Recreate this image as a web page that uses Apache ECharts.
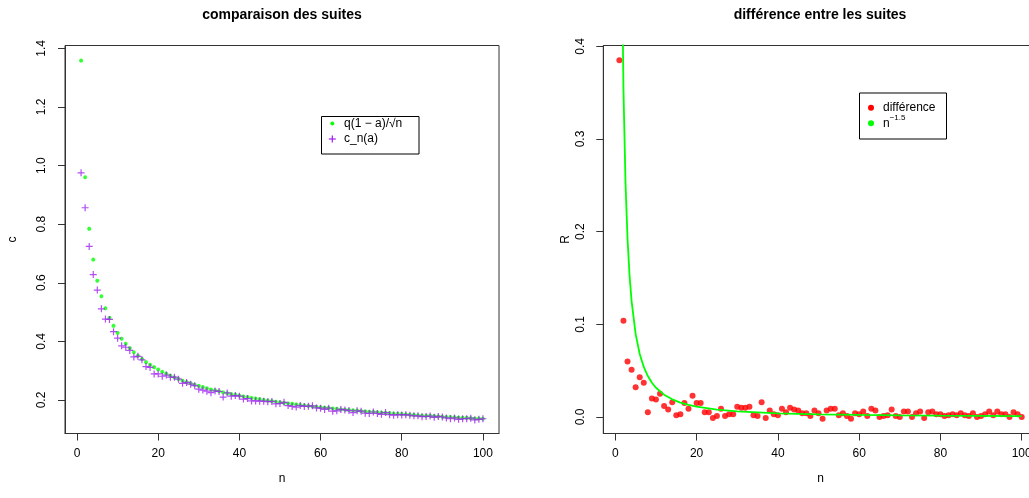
<!DOCTYPE html>
<html>
<head>
<meta charset="utf-8">
<script src="https://cdn.jsdelivr.net/npm/echarts@6/dist/echarts.min.js"></script>
<style>
html,body{margin:0;padding:0;background:#fff}
#main{width:1029px;height:498px}
</style>
</head>
<body>
<div id="main"></div>
<script>
// indices n = 1..100
const nVals=[1,2,3,4,5,6,7,8,9,10,11,12,13,14,15,16,17,18,19,20,
21,22,23,24,25,26,27,28,29,30,31,32,33,34,35,36,37,38,39,40,
41,42,43,44,45,46,47,48,49,50,51,52,53,54,55,56,57,58,59,60,
61,62,63,64,65,66,67,68,69,70,71,72,73,74,75,76,77,78,79,80,
81,82,83,84,85,86,87,88,89,90,91,92,93,94,95,96,97,98,99,100]

// green stars : q(1-a)/sqrt(n)
const qBound=[1.358,0.960,0.784,0.679,0.607,0.554,0.513,0.480,0.453,0.429,
0.409,0.392,0.377,0.363,0.351,0.340,0.329,0.320,0.312,0.304,
0.296,0.290,0.283,0.277,0.272,0.266,0.261,0.257,0.252,0.248,
0.244,0.240,0.236,0.233,0.230,0.226,0.223,0.220,0.218,0.215,
0.212,0.210,0.207,0.205,0.203,0.200,0.198,0.196,0.194,0.192,
0.190,0.188,0.187,0.185,0.183,0.182,0.180,0.178,0.177,0.175,
0.174,0.173,0.171,0.170,0.168,0.167,0.166,0.165,0.164,0.162,
0.161,0.160,0.159,0.158,0.157,0.156,0.155,0.154,0.153,0.152,
0.151,0.150,0.149,0.148,0.147,0.146,0.146,0.145,0.144,0.143,
0.142,0.142,0.141,0.140,0.139,0.139,0.138,0.137,0.137,0.136]

// purple crosses : c_n(a)
const cnVals=[0.975,0.856,0.724,0.628,0.575,0.511,0.476,0.475,0.433,0.411,
0.385,0.380,0.369,0.347,0.349,0.337,0.314,0.311,0.289,0.289,
0.281,0.285,0.278,0.278,0.271,0.257,0.260,0.254,0.249,0.237,
0.234,0.230,0.225,0.231,0.229,0.210,0.224,0.213,0.215,0.213,
0.203,0.205,0.197,0.197,0.196,0.196,0.194,0.195,0.187,0.188,
0.192,0.181,0.178,0.176,0.181,0.178,0.179,0.180,0.173,0.172,
0.168,0.172,0.162,0.163,0.168,0.166,0.164,0.157,0.163,0.162,
0.155,0.154,0.159,0.154,0.151,0.157,0.150,0.148,0.150,0.149,
0.150,0.148,0.146,0.146,0.143,0.144,0.145,0.141,0.144,0.142,
0.139,0.136,0.139,0.134,0.136,0.136,0.138,0.132,0.134,0.136]

// red dots : difference
const diffVals=[0.385,0.104,0.060,0.051,0.032,0.043,0.037,0.005,0.020,0.019,
0.025,0.012,0.008,0.016,0.002,0.003,0.015,0.009,0.023,0.015,
0.015,0.005,0.005,-0.001,0.001,0.009,0.001,0.003,0.003,0.011,
0.010,0.010,0.011,0.002,0.001,0.016,-0.001,0.007,0.003,0.002,
0.009,0.005,0.010,0.008,0.007,0.004,0.004,0.001,0.007,0.004,
-0.002,0.007,0.009,0.009,0.002,0.004,0.001,-0.002,0.004,0.003,
0.006,0.001,0.009,0.007,0.000,0.001,0.002,0.008,0.001,0.000,
0.006,0.006,0.000,0.004,0.006,-0.001,0.005,0.006,0.003,0.003,
0.001,0.002,0.003,0.002,0.004,0.002,0.001,0.004,0.000,0.001,
0.003,0.006,0.002,0.006,0.003,0.003,0.000,0.005,0.003,0.000]

// green curve n^-1.5
const powN=[1,1.5,2,2.5,3,3.5,4,5,6,7,8,9,10,12,14,16,18,20,25,30,40,50,60,70,80,90,100]
const powV=[1,0.5443,0.3536,0.2530,0.1925,0.1527,0.125,0.0894,0.0680,0.0540,0.0442,0.0370,0.0316,
0.0241,0.0191,0.0156,0.0131,0.0112,0.0080,0.0061,0.0040,0.0028,0.0022,0.0017,0.0014,0.0012,0.0010]

const xTicks=[0,20,40,60,80,100]
const yTicksLeft=[0.2,0.4,0.6,0.8,1.0,1.2,1.4]
const yTicksRight=[0,0.1,0.2,0.3,0.4]

const FONT='Liberation Sans'
const AX='#333'
const starPath='path://M0,5L10,5M5,0L5,10M1.5,1.5L8.5,8.5M8.5,1.5L1.5,8.5'
const plusPath='path://M0,5L10,5M5,0L5,10'

const pairs=(xs,ys)=>xs.map((x,i)=>[x,ys[i]])

const xAxisOf=(gi)=>({
	gridIndex:gi,type:'value',min:-2.96,max:103.96,
	axisLine:{show:true,onZero:false,lineStyle:{color:AX,width:1}},
	axisTick:{show:true,length:7,customValues:xTicks,lineStyle:{color:AX}},
	axisLabel:{customValues:xTicks,margin:14,color:'#000',fontSize:12,fontFamily:FONT},
	splitLine:{show:false},
	name:'n',nameLocation:'middle',nameGap:39,
	nameTextStyle:{color:'#000',fontSize:12,fontFamily:FONT}
})
const yAxisOf=(gi,min,max,ticks,name,gap)=>({
	gridIndex:gi,type:'value',min:min,max:max,
	axisLine:{show:true,onZero:false,lineStyle:{color:AX,width:1}},
	axisTick:{show:true,length:7,customValues:ticks,lineStyle:{color:AX}},
	axisLabel:{customValues:ticks,rotate:90,margin:17,color:'#000',fontSize:12,fontFamily:FONT,
		formatter:v=>v.toFixed(1)},
	splitLine:{show:false},
	name:name,nameLocation:'middle',nameGap:gap,
	nameTextStyle:{color:'#000',fontSize:12,fontFamily:FONT}
})
const seg=(x1,y1,x2,y2,c)=>({type:'line',shape:{x1,y1,x2,y2},style:{stroke:c,lineWidth:1.2}})

const chart=echarts.init(document.getElementById('main'),null,{renderer:'canvas'})
chart.setOption({
	animation:false,
	backgroundColor:'#fff',
	title:[
		{text:'comparaison des suites',left:282,top:8,textAlign:'center',padding:0,
			textStyle:{fontSize:14,fontWeight:'bold',color:'#000',fontFamily:FONT}},
		{text:'différence entre les suites',left:820,top:8,textAlign:'center',padding:0,
			textStyle:{fontSize:14,fontWeight:'bold',color:'#000',fontFamily:FONT}}
	],
	grid:[
		{left:65,top:45.5,width:434,height:388,show:true,borderColor:AX,borderWidth:1,outerBoundsMode:'none'},
		{left:603.3,top:45.5,width:434.5,height:388,show:true,borderColor:AX,borderWidth:1,outerBoundsMode:'none'}
	],
	xAxis:[xAxisOf(0),xAxisOf(1)],
	yAxis:[
		yAxisOf(0,0.0857,1.4096,yTicksLeft,'c',46),
		yAxisOf(1,-0.0178,0.4009,yTicksRight,'R',32)
	],
	series:[
		{type:'scatter',xAxisIndex:0,yAxisIndex:0,data:pairs(nVals,qBound),
			symbol:starPath,symbolSize:4,
			itemStyle:{color:'rgba(0,0,0,0)',borderColor:'#00FF00',borderWidth:1.2}},
		{type:'scatter',xAxisIndex:0,yAxisIndex:0,data:pairs(nVals,cnVals),
			symbol:plusPath,symbolSize:7,
			itemStyle:{color:'rgba(0,0,0,0)',borderColor:'#A020F0',borderWidth:1.2}},
		{type:'scatter',xAxisIndex:1,yAxisIndex:1,data:pairs(nVals,diffVals),
			symbol:'circle',symbolSize:6,itemStyle:{color:'#FF0000'}},
		{type:'line',xAxisIndex:1,yAxisIndex:1,data:pairs(powN,powV),
			showSymbol:false,clip:true,lineStyle:{color:'#00FF00',width:1.8}}
	],
	graphic:[
		// left legend
		{type:'rect',shape:{x:321.5,y:116.5,width:97.5,height:37.5},
			style:{fill:'#fff',stroke:'#000',lineWidth:1}},
		seg(330.3,123.5,334.3,123.5,'#00FF00'),
		seg(332.3,121.5,332.3,125.5,'#00FF00'),
		seg(330.9,122.1,333.7,124.9,'#00FF00'),
		seg(333.7,122.1,330.9,124.9,'#00FF00'),
		seg(328.8,139,335.8,139,'#A020F0'),
		seg(332.3,135.5,332.3,142.5,'#A020F0'),
		{type:'text',x:344,y:123.5,style:{text:'q(1 − a)/√n̅',fontSize:12,fontFamily:FONT,fill:'#000',verticalAlign:'middle'}},
		{type:'text',x:344,y:139,style:{text:'c_n(a)',fontSize:12,fontFamily:FONT,fill:'#000',verticalAlign:'middle'}},
		// right legend
		{type:'rect',shape:{x:859.5,y:93,width:87,height:46},
			style:{fill:'#fff',stroke:'#000',lineWidth:1}},
		{type:'circle',shape:{cx:871,cy:107.7,r:3},style:{fill:'#FF0000'}},
		{type:'circle',shape:{cx:871,cy:123.3,r:3},style:{fill:'#00FF00'}},
		{type:'text',x:883,y:107.7,style:{text:'différence',fontSize:12,fontFamily:FONT,fill:'#000',verticalAlign:'middle'}},
		{type:'text',x:883,y:114,style:{text:'{b|n}{s|−1.5}',fontFamily:FONT,fill:'#000',verticalAlign:'top',
			rich:{b:{fontSize:12,lineHeight:16,verticalAlign:'bottom',fontFamily:FONT},
				s:{fontSize:8,lineHeight:16,verticalAlign:'top',fontFamily:FONT}}}}
	]
})
</script>
</body>
</html>
